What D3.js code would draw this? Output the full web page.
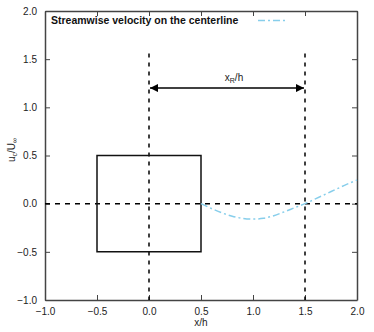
<!DOCTYPE html>
<html>
<head>
<meta charset="utf-8">
<script src="https://cdn.jsdelivr.net/npm/d3@7"></script>
<style>
  body { margin: 0; background: #fff; }
  text { font-family: "Liberation Sans", Arial, sans-serif; }
</style>
</head>
<body>
<div id="chart"></div>
<script>
    var width = 374;
    var height = 332;

    // centerline velocity
    var xs = [0.5, 0.6, 0.7, 0.8, 0.9, 1.0, 1.1, 1.2, 1.3, 1.4, 1.5, 1.6, 1.7, 1.8, 1.9, 2.0];
    var uc = [0.0, -0.05, -0.095, -0.13, -0.152, -0.16, -0.152, -0.125, -0.085, -0.042, 0.0, 0.05, 0.1, 0.15, 0.2, 0.245];
    var tickvals = [-1.0, -0.5, 0.0, 0.5, 1.0, 1.5, 2.0];
    var square = [[-0.5, -0.5], [0.5, -0.5], [0.5, 0.5], [-0.5, 0.5]];
    var reattach = 1.5;   // x_R/h

    var x = d3.scaleLinear().domain([-1, 2]).range([45, 357]);
    var y = d3.scaleLinear().domain([-1, 2]).range([300, 11]);

    var svg = d3.select("#chart").append("svg")
                .attr("width", width).attr("height", height);

    var frame = "#444";

    // axes, ticks pointing inward
    var fmt = d3.format(".1f");
    svg.append("g").attr("transform", "translate(0,300)")
       .call(d3.axisBottom(x).tickValues(tickvals).tickFormat(fmt).tickSizeInner(-5).tickSizeOuter(0).tickPadding(8));
    svg.append("g").attr("transform", "translate(0,11)")
       .call(d3.axisTop(x).tickValues(tickvals).tickFormat("").tickSizeInner(-5).tickSizeOuter(0));
    svg.append("g").attr("transform", "translate(45,0)")
       .call(d3.axisLeft(y).tickValues(tickvals).tickFormat(fmt).tickSizeInner(-5).tickSizeOuter(0).tickPadding(8));
    svg.append("g").attr("transform", "translate(357,0)")
       .call(d3.axisRight(y).tickValues(tickvals).tickFormat("").tickSizeInner(-5).tickSizeOuter(0));
    svg.selectAll(".domain").attr("stroke", frame).attr("stroke-width", 1.5);
    svg.selectAll(".tick line").attr("stroke", frame);
    svg.selectAll(".tick text").attr("font-size", 10).attr("fill", "#222")
       .attr("font-family", "'Liberation Sans', Arial, sans-serif");

    // dashed reference lines
    svg.append("line").attr("x1", x(-1)).attr("x2", x(2)).attr("y1", y(0)).attr("y2", y(0))
       .attr("stroke", "#000").attr("stroke-width", 1.5).attr("stroke-dasharray", "5,5");
    [0, reattach].forEach(function(v) {
      svg.append("line").attr("x1", x(v)).attr("x2", x(v)).attr("y1", y(1.56)).attr("y2", y(-1))
         .attr("stroke", "#000").attr("stroke-width", 1.5).attr("stroke-dasharray", "4,5");
    });

    // the square cylinder
    svg.append("polygon")
       .attr("points", square.map(function(p) { return x(p[0]) + "," + y(p[1]); }).join(" "))
       .attr("fill", "none").attr("stroke", "#111").attr("stroke-width", 1.5);

    // recirculation length arrow
    var defs = svg.append("defs");
    defs.append("marker").attr("id", "ah").attr("viewBox", "0 0 10 10")
        .attr("refX", 10).attr("refY", 5).attr("markerWidth", 10).attr("markerHeight", 8)
        .attr("markerUnits", "userSpaceOnUse").attr("orient", "auto-start-reverse")
        .append("path").attr("d", "M0,0 L10,5 L0,10 Z").attr("fill", "#000");
    svg.append("line").attr("x1", x(0) + 1).attr("x2", x(reattach) - 1).attr("y1", y(1.2)).attr("y2", y(1.2))
       .attr("stroke", "#000").attr("stroke-width", 1.5)
       .attr("marker-start", "url(#ah)").attr("marker-end", "url(#ah)");
    var lab = svg.append("text").attr("x", 234).attr("y", y(1.2) - 7)
       .attr("text-anchor", "middle").attr("font-size", 10).attr("fill", "#222");
    lab.append("tspan").text("x");
    lab.append("tspan").attr("font-size", 7).attr("dy", 2).text("R");
    lab.append("tspan").attr("dy", -2).text("/h");

    // curve
    var line = d3.line().x(function(d, i) { return x(xs[i]); }).y(function(d) { return y(d); })
                 .curve(d3.curveMonotoneX);
    var blue = "#87ceeb";
    svg.append("path").datum(uc).attr("d", line)
       .attr("fill", "none").attr("stroke", blue).attr("stroke-width", 1.5)
       .attr("stroke-dasharray", "7,3,2,3");

    // legend
    svg.append("text").attr("x", 51).attr("y", 24).attr("font-size", 10.5).attr("font-weight", "bold")
       .attr("fill", "#111").text("Streamwise velocity on the centerline");
    svg.append("line").attr("x1", 258).attr("x2", 286).attr("y1", 20.5).attr("y2", 20.5)
       .attr("stroke", blue).attr("stroke-width", 1.5).attr("stroke-dasharray", "7,3,2,3");

    // axis titles
    svg.append("text").attr("x", 201).attr("y", 326).attr("text-anchor", "middle")
       .attr("font-size", 10).attr("fill", "#222").text("x/h");
    var yl = svg.append("text").attr("transform", "translate(15,150) rotate(-90)")
       .attr("text-anchor", "middle").attr("font-size", 10).attr("fill", "#222");
    yl.append("tspan").text("u");
    yl.append("tspan").attr("font-size", 7).attr("dy", 2).text("c");
    yl.append("tspan").attr("dy", -2).text("/U");
    yl.append("tspan").attr("font-size", 7).attr("dy", 2).text("∞");
</script>
</body>
</html>
